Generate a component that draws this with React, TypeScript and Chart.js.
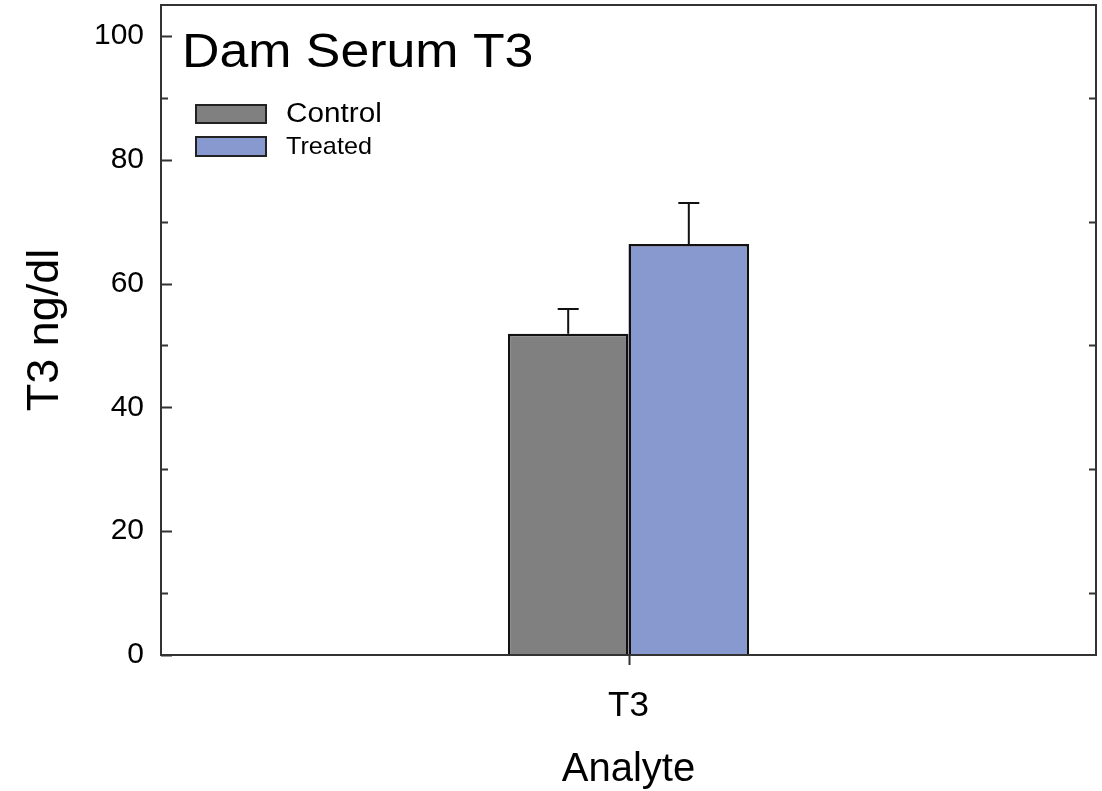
import React, { useEffect, useRef } from 'react';
import { Chart, registerables } from 'chart.js';

Chart.register(...registerables);

const categories = ['T3'];
const seriesNames = ['Control', 'Treated'];
const controlValues = [51.9];
const treatedValues = [66.4];
const controlErrors = [4.0];
const treatedErrors = [6.6];
const yTicks = [0, 20, 40, 60, 80, 100];
const yMinorTicks = [10, 30, 50, 70, 90];
const chartTitle = 'Dam Serum T3';
const xTitle = 'Analyte';
const yTitle = 'T3 ng/dl';

const FAMILY = "'Liberation Sans', Arial, sans-serif";
const COLORS = ['#808080', '#8799CE'];
const errorsBySeries = [controlErrors, treatedErrors];

function stretchedText(ctx: any, text: string, x: number, y: number, sx: number) {
  ctx.save();
  ctx.translate(x, y);
  ctx.scale(sx, 1);
  ctx.fillText(text, 0, 0);
  ctx.restore();
}

const framePlugin = {
  id: 'frameTicks',
  afterDatasetsDraw(chart: any) {
    const { ctx, chartArea: a, scales } = chart;
    const y = scales.y;
    const x = scales.x;
    ctx.save();
    // error bars
    chart.data.datasets.forEach((ds: any, i: number) => {
      const meta = chart.getDatasetMeta(i);
      meta.data.forEach((el: any, j: number) => {
        const v = ds.data[j];
        const e = errorsBySeries[i][j];
        const py0 = y.getPixelForValue(v);
        const py1 = y.getPixelForValue(v + e);
        ctx.strokeStyle = '#111';
        ctx.lineWidth = 2;
        ctx.beginPath();
        ctx.moveTo(el.x, py0);
        ctx.lineTo(el.x, py1);
        ctx.moveTo(el.x - 10.5, py1);
        ctx.lineTo(el.x + 10.5, py1);
        ctx.stroke();
      });
    });
    // frame
    ctx.strokeStyle = '#333';
    ctx.lineWidth = 2;
    ctx.strokeRect(a.left, a.top, a.right - a.left, a.bottom - a.top);
    // ticks
    ctx.beginPath();
    yTicks.forEach((v) => {
      const py = Math.round(y.getPixelForValue(v)) + 0.5;
      ctx.moveTo(a.left, py);
      ctx.lineTo(a.left + 11, py);
    });
    yMinorTicks.forEach((v) => {
      const py = Math.round(y.getPixelForValue(v)) + 0.5;
      ctx.moveTo(a.left, py);
      ctx.lineTo(a.left + 7, py);
      ctx.moveTo(a.right, py);
      ctx.lineTo(a.right - 7, py);
    });
    categories.forEach((_, k) => {
      const px = Math.round(x.getPixelForTick(k)) + 0.5;
      ctx.moveTo(px, a.bottom);
      ctx.lineTo(px, a.bottom + 10);
    });
    ctx.stroke();
    ctx.restore();
  },
  afterDraw(chart: any) {
    const { ctx } = chart;
    ctx.save();
    ctx.fillStyle = '#000';
    ctx.textBaseline = 'alphabetic';
    ctx.textAlign = 'left';
    ctx.font = `48px ${FAMILY}`;
    stretchedText(ctx, chartTitle, 182, 67, 1.08);
    // legend
    const boxes = [
      { y: 105, h: 18, size: 27, sx: 1.1 },
      { y: 137, h: 19, size: 24, sx: 1.05 },
    ];
    seriesNames.forEach((name, i) => {
      const b = boxes[i];
      ctx.fillStyle = COLORS[i];
      ctx.fillRect(196, b.y, 70, b.h);
      ctx.strokeStyle = '#222';
      ctx.lineWidth = 2;
      ctx.strokeRect(196, b.y, 70, b.h);
      ctx.fillStyle = '#000';
      ctx.font = `${b.size}px ${FAMILY}`;
      ctx.textBaseline = 'middle';
      stretchedText(ctx, name, 286, b.y + b.h / 2 + 1, b.sx);
    });
    ctx.restore();
  },
};

export default function App() {
  const ref = useRef<HTMLCanvasElement>(null);
  useEffect(() => {
    const chart = new Chart(ref.current as HTMLCanvasElement, {
      type: 'bar',
      data: {
        labels: categories,
        datasets: [
          {
            label: seriesNames[0],
            data: controlValues,
            backgroundColor: COLORS[0],
            borderColor: '#111',
            borderWidth: 2.5,
          },
          {
            label: seriesNames[1],
            data: treatedValues,
            backgroundColor: COLORS[1],
            borderColor: '#111',
            borderWidth: 2.5,
          },
        ],
      },
      options: {
        responsive: false,
        animation: false,
        datasets: { bar: { categoryPercentage: 0.258, barPercentage: 1 } },
        layout: { padding: { top: 5, right: 6, left: 0, bottom: 0 } },
        plugins: { legend: { display: false }, tooltip: { enabled: false }, title: { display: false } },
        scales: {
          x: {
            grid: { display: false, drawTicks: false },
            border: { display: false },
            ticks: { color: '#000', font: { family: FAMILY, size: 35 }, padding: 30 },
            title: {
              display: true,
              text: xTitle,
              color: '#000',
              font: { family: FAMILY, size: 40, lineHeight: 1.0 },
              padding: { top: 0, bottom: 1 },
            },
            afterFit: (s: any) => {
              s.height = 136;
              s.paddingLeft = 0;
              s.paddingRight = 0;
            },
          },
          y: {
            min: 0,
            max: 105,
            grid: { display: false, drawTicks: false },
            border: { display: false },
            ticks: { color: '#000', font: { family: FAMILY, size: 30 }, padding: 17 },
            afterBuildTicks: (s: any) => {
              s.ticks = yTicks.map((v) => ({ value: v }));
            },
            title: {
              display: true,
              text: yTitle,
              color: '#000',
              font: { family: FAMILY, size: 45 },
              padding: { top: 19, bottom: 0 },
            },
            afterFit: (s: any) => {
              s.width = 161;
              s.paddingTop = 0;
              s.paddingBottom = 0;
            },
          },
        },
      },
      plugins: [framePlugin],
    });
    return () => chart.destroy();
  }, []);
  return (
    <div style={{ position: 'fixed', left: 0, top: 0, width: 1102, height: 791, background: '#fff' }}>
      <canvas ref={ref} width={1102} height={791} style={{ width: 1102, height: 791, display: 'block' }} />
    </div>
  );
}
